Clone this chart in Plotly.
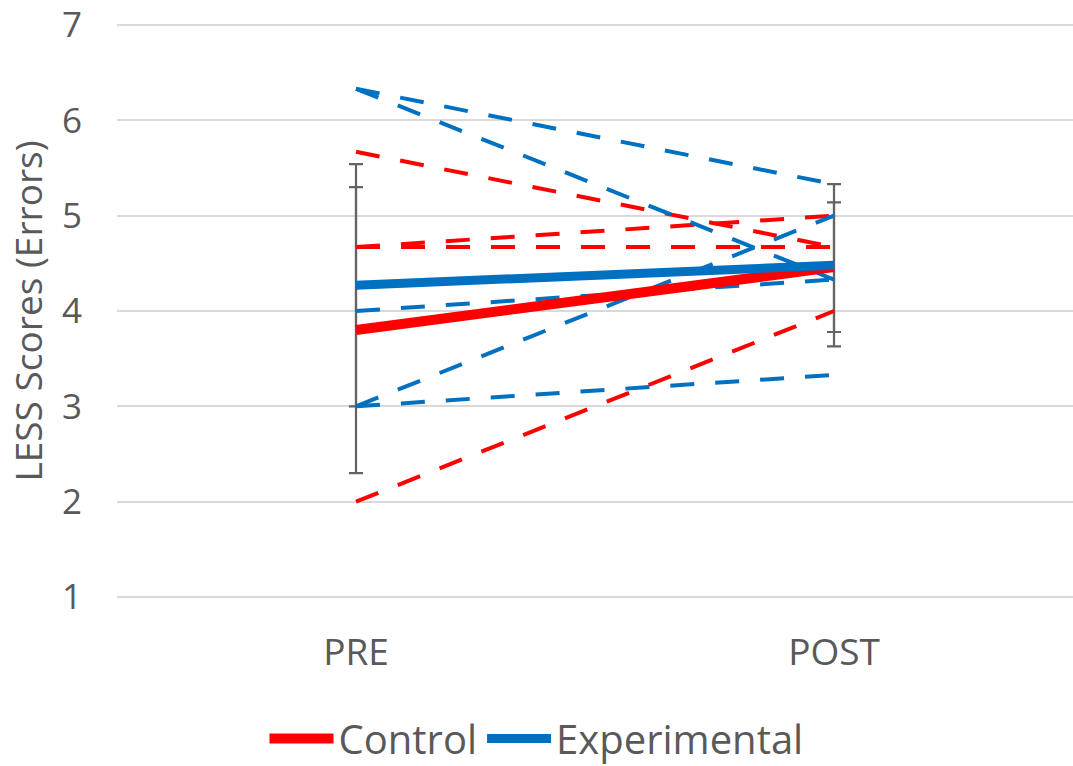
import plotly.graph_objects as go

categories = ["PRE", "POST"]
control_mean = [3.80, 4.46]
control_sd = [1.50, 0.68]
exp_mean = [4.27, 4.48]
exp_sd = [1.27, 0.85]
control_individuals = [[5.67, 4.67], [4.67, 4.67], [4.67, 5.00], [2.00, 4.00]]
exp_individuals = [[6.33, 5.33], [6.33, 4.33], [4.00, 4.33], [3.00, 5.00], [3.00, 3.33]]
y_ticks = [1, 2, 3, 4, 5, 6, 7]

RED = "#FF0000"
BLUE = "#0070C0"
GRAY_TXT = "#595959"
FONT = "Open Sans"

fig = go.Figure()

# error bars (drawn beneath lines)
for mean, sd in [(control_mean, control_sd), (exp_mean, exp_sd)]:
    fig.add_trace(go.Scatter(
        x=categories, y=mean, mode="markers",
        marker=dict(size=1, color="rgba(0,0,0,0)"),
        error_y=dict(type="data", array=sd, visible=True, color="#636363",
                     thickness=2.2, width=7),
        showlegend=False, hoverinfo="skip"))

for vals in control_individuals:
    fig.add_trace(go.Scatter(x=categories, y=vals, mode="lines",
                             line=dict(color=RED, width=4, dash="24px,21px"),
                             showlegend=False))
for vals in exp_individuals:
    fig.add_trace(go.Scatter(x=categories, y=vals, mode="lines",
                             line=dict(color=BLUE, width=4, dash="24px,21px"),
                             showlegend=False))

fig.add_trace(go.Scatter(x=categories, y=control_mean, mode="lines", name="Control",
                         line=dict(color=RED, width=10)))
fig.add_trace(go.Scatter(x=categories, y=exp_mean, mode="lines", name="Experimental",
                         line=dict(color=BLUE, width=9)))

fig.update_layout(
    width=1073, height=766,
    margin=dict(l=117, r=0, t=20, b=167),
    paper_bgcolor="white", plot_bgcolor="white",
    font=dict(family=FONT, color=GRAY_TXT),
    xaxis=dict(type="category", range=[-0.5, 1.5], showgrid=False, showline=False,
               zeroline=False, ticks="", tickfont=dict(size=37, color=GRAY_TXT),
               ticklabelstandoff=28),
    yaxis=dict(range=[0.98, 7.02], tickvals=y_ticks, showgrid=True, gridcolor="#D9D9D9",
               gridwidth=2, zeroline=False, showline=False, ticks="",
               ticklabeloverflow="allow",
               tickfont=dict(size=35, color=GRAY_TXT), ticklabelstandoff=34,
               title=dict(text="LESS Scores (Errors)", font=dict(size=37, color=GRAY_TXT),
                          standoff=8)),
    legend=dict(orientation="h", xref="container", yref="container",
                x=0.5, xanchor="center", y=0.036, yanchor="middle",
                font=dict(size=40, color=GRAY_TXT), itemwidth=64),
)

fig.write_html("out.html")
